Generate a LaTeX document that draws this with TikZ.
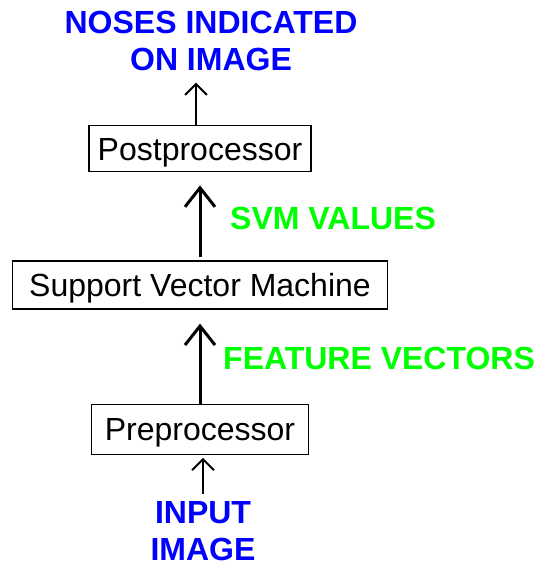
\documentclass[tikz,border=0pt]{standalone}
\usepackage{fontspec}
\setmainfont{Liberation Sans}
\usetikzlibrary{positioning, arrows.meta}

\definecolor{outblue}{RGB}{0,0,255}
\definecolor{valgreen}{RGB}{0,255,0}

\tikzset{
	stage/.style={rectangle, draw, line width=1.2pt, inner sep=0pt, text height=23pt, text depth=0pt, font=\fontsize{32}{37}\selectfont},
	datalabel/.style={font=\bfseries\fontsize{32}{37}\selectfont, inner sep=0pt, text height=23pt, text depth=0pt, text=valgreen},
	endlabel/.style={font=\bfseries\fontsize{32}{37}\selectfont, inner sep=0pt, align=center, text=outblue},
	bigflow/.style={line width=3pt, -{Straight Barb[length=19pt,width=30pt]}},
	smallflow/.style={line width=2pt, -{Straight Barb[length=11pt,width=22pt]}}
}

\begin{document}
\begin{tikzpicture}[x=1pt, y=1pt]
					\fill[white] (0,0) rectangle (546,-567);
					% Draw the stages.
					\node[stage, minimum width=375pt, minimum height=48pt] at (200,-285) (svm) {Support Vector Machine};
					\node[stage, minimum width=222pt, minimum height=46pt, above=88pt of svm] (post) {Postprocessor};
					\node[stage, minimum width=217pt, minimum height=50pt, below=94pt of svm] (pre) {Preprocessor};
					
					% Input, output and data labels
					\node[endlabel] at (211,-40.5) (noses) {NOSES INDICATED\\ON IMAGE};
					\node[endlabel] at (203,-531) (input) {INPUT\\IMAGE};
					\node[datalabel, anchor=west] at (230,-217.5) (svmval) {SVM VALUES};
					\node[datalabel, anchor=west] at (223,-357.5) (featvec) {FEATURE VECTORS};
					
					% Connect stages with arrows
					\draw[smallflow, shorten <=7pt, shorten >=3pt] (input.north) -- (input.north |- pre.south);
					\draw[bigflow] (pre.north) -- ([yshift=-14pt]svm.south);
					\draw[bigflow, shorten <=3pt] (svm.north) -- ([yshift=-13pt]post.south);
					\draw[smallflow, shorten >=12pt] ([xshift=-4pt]post.north) -- ([xshift=-4pt]post.north |- noses.south);
				\end{tikzpicture}
\end{document}
